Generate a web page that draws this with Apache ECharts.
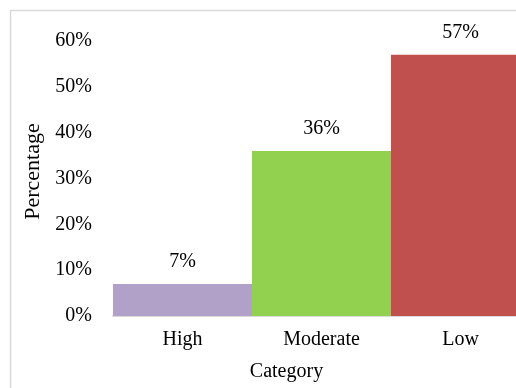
<!DOCTYPE html>
<html>
<head>
<meta charset="utf-8">
<script src="https://cdn.jsdelivr.net/npm/echarts@6/dist/echarts.min.js"></script>
<style>
  html, body { margin: 0; padding: 0; background: #fff; }
  #chart { width: 516px; height: 388px; }
</style>
</head>
<body>
<div id="chart"></div>
<script>
// Share of respondents by category
var categories = ['High', 'Moderate', 'Low'];
var percentages = [7, 36, 57];
var barColors = ['#b1a0c7', '#92d050', '#c0504d'];
var yTicks = [0, 10, 20, 30, 40, 50, 60];

var font = '"Liberation Serif", "Times New Roman", serif';

var chart = echarts.init(document.getElementById('chart'), null, { renderer: 'canvas' });

chart.setOption({
  animation: false,
  backgroundColor: '#fff',
  // chart-area frame (top and left edges fall inside the view)
  graphic: [{
    type: 'polyline',
    shape: { points: [[10.5, 388], [10.5, 10.5], [516, 10.5]] },
    style: { fill: 'none', stroke: '#d9d9d9', lineWidth: 1.5 },
    silent: true
  }],
  grid: { left: 113, top: 41, right: -14, bottom: 72, containLabel: false, outerBoundsMode: 'none' },
  xAxis: {
    type: 'category',
    data: categories,
    name: 'Category',
    nameLocation: 'middle',
    nameGap: 46,
    nameTextStyle: { fontFamily: font, fontSize: 20, color: '#000', padding: [0, 70, 0, 0] },
    axisLine: { lineStyle: { color: '#d9d9d9', width: 2 } },
    axisTick: { show: false },
    axisLabel: { fontFamily: font, fontSize: 20, color: '#000', margin: 14 }
  },
  yAxis: {
    type: 'value',
    min: yTicks[0],
    max: yTicks[yTicks.length - 1],
    interval: 10,
    name: 'Percentage',
    nameLocation: 'middle',
    nameGap: 68,
    nameTextStyle: { fontFamily: font, fontSize: 22, color: '#000', padding: [0, 0, 0, 14] },
    axisLine: { show: false },
    axisTick: { show: false },
    splitLine: { show: false },
    axisLabel: {
      fontFamily: font, fontSize: 20, color: '#000', margin: 21,
      formatter: function (v) { return v + '%'; }
    }
  },
  series: [{
    type: 'bar',
    barCategoryGap: 0,
    data: percentages.map(function (v, i) {
      return { value: v, itemStyle: { color: barColors[i] } };
    }),
    label: {
      show: true,
      position: 'top',
      distance: 12,
      fontFamily: font,
      fontSize: 20,
      color: '#000',
      formatter: function (p) { return p.value + '%'; }
    }
  }]
});
</script>
</body>
</html>
